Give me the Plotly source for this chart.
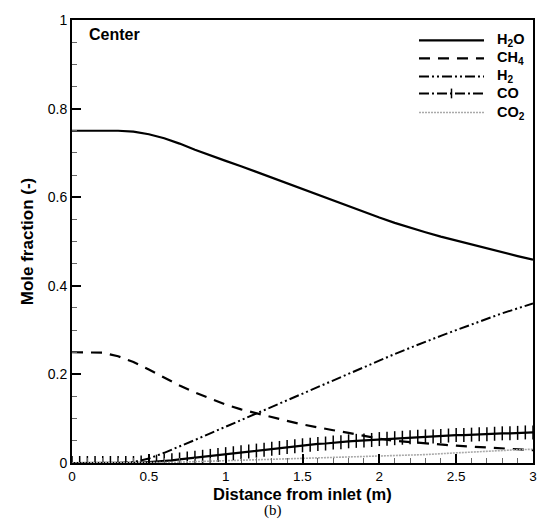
import plotly.graph_objects as go

# Distance from inlet (m): 0.1 m grid for the curves, 0.05 m grid for CO (markers)
x_grid = [round(i * 0.1, 2) for i in range(31)]
x_co = [round(i * 0.05, 2) for i in range(61)]

h2o = [0.75, 0.75, 0.75, 0.75, 0.748, 0.742, 0.733, 0.721, 0.707, 0.694,
       0.682, 0.670, 0.657, 0.644, 0.631, 0.618, 0.605, 0.592, 0.579, 0.566,
       0.554, 0.542, 0.531, 0.521, 0.511, 0.502, 0.493, 0.484, 0.475, 0.467, 0.459]
ch4 = [0.25, 0.25, 0.249, 0.241, 0.228, 0.211, 0.193, 0.175, 0.159, 0.146,
       0.132, 0.121, 0.112, 0.104, 0.095, 0.087, 0.080, 0.074, 0.068, 0.061,
       0.055, 0.050, 0.047, 0.044, 0.042, 0.039, 0.037, 0.035, 0.032, 0.030, 0.029]
h2 = [0, 0, 0, 0, 0.002, 0.010, 0.023, 0.037, 0.052, 0.067,
      0.082, 0.097, 0.111, 0.126, 0.141, 0.157, 0.172, 0.187, 0.202, 0.217,
      0.232, 0.246, 0.260, 0.274, 0.287, 0.300, 0.313, 0.326, 0.338, 0.349, 0.360]
co2 = [0, 0, 0, 0, 0, 0, 0.001, 0.002, 0.003, 0.004,
       0.005, 0.006, 0.007, 0.008, 0.009, 0.010, 0.011, 0.012, 0.013, 0.014,
       0.015, 0.017, 0.018, 0.019, 0.021, 0.023, 0.024, 0.026, 0.028, 0.030, 0.031]
co = [0, 0, 0, 0, 0, 0, 0, 0, 0, 0.001,
      0.002, 0.003, 0.005, 0.006, 0.008, 0.010, 0.012, 0.014, 0.016, 0.018,
      0.020, 0.022, 0.024, 0.026, 0.028, 0.030, 0.032, 0.034, 0.036, 0.038,
      0.040, 0.041, 0.043, 0.044, 0.046, 0.047, 0.049, 0.050, 0.051, 0.052,
      0.054, 0.055, 0.056, 0.057, 0.058, 0.059, 0.060, 0.060, 0.061, 0.062,
      0.063, 0.063, 0.064, 0.065, 0.065, 0.066, 0.067, 0.067, 0.068, 0.069, 0.069]

series_names = ["H<sub>2</sub>O", "CH<sub>4</sub>", "H<sub>2</sub>", "CO", "CO<sub>2</sub>"]

x_ticks = [0, 0.5, 1, 1.5, 2, 2.5, 3]
x_tick_labels = ["0", "0.5", "1", "1.5", "2", "2.5", "3"]
y_ticks = [0, 0.2, 0.4, 0.6, 0.8, 1]
y_tick_labels = ["0", "0.2", "0.4", "0.6", "0.8", "1"]

FONT = "Liberation Sans, Arial, sans-serif"
SERIF = "Liberation Serif, Times New Roman, serif"

styles = [
    dict(color="black", width=2.2),
    dict(color="black", width=2.2, dash="11px,8px"),
    dict(color="black", width=2.0, dash="10px,3px,2px,3px,2px,3px"),
    dict(color="black", width=2.2),
    dict(color="#aaaaaa", width=1.6, dash="2px,1px"),
]

fig = go.Figure()
fig.add_trace(go.Scatter(x=x_grid, y=h2o, mode="lines", name=series_names[0],
                         line=styles[0], showlegend=False))
fig.add_trace(go.Scatter(x=x_grid, y=ch4, mode="lines", name=series_names[1],
                         line=styles[1], showlegend=False))
fig.add_trace(go.Scatter(x=x_grid, y=h2, mode="lines", name=series_names[2],
                         line=styles[2], showlegend=False))
fig.add_trace(go.Scatter(x=x_co, y=co, mode="lines+markers", name=series_names[3],
                         line=styles[3], showlegend=False,
                         marker=dict(symbol="line-ns", size=10,
                                     line=dict(color="black", width=1.5))))
fig.add_trace(go.Scatter(x=x_grid, y=co2, mode="lines", name=series_names[4],
                         line=styles[4], showlegend=False))

# Hand-drawn legend (long line samples as in the original figure)
leg_x0, leg_x1, leg_tx = 0.7527, 0.8937, 0.9168
leg_rows = [0.9542, 0.9133, 0.8727, 0.8342, 0.7911]
legend_styles = [
    dict(color="black", width=2.2),
    dict(color="black", width=2.2, dash="11px,8px"),
    dict(color="black", width=2.0, dash="10px,3px,2px,3px,2px,3px"),
    dict(color="black", width=1.9, dash="10px,3px,2px,3px"),
    dict(color="#aaaaaa", width=1.6, dash="2px,1px"),
]
shapes = []
annotations = []
for name, yy, st in zip(series_names, leg_rows, legend_styles):
    shapes.append(dict(type="line", xref="paper", yref="paper",
                       x0=leg_x0, x1=leg_x1, y0=yy, y1=yy, line=st))
    annotations.append(dict(text="<b>" + name + "</b>", xref="paper", yref="paper",
                            x=leg_tx, y=yy, xanchor="left", yanchor="middle",
                            showarrow=False, font=dict(family=FONT, size=14.5)))
# small '+' mark on the CO legend sample
xm = (leg_x0 + leg_x1) / 2
shapes.append(dict(type="line", xref="paper", yref="paper",
                   x0=xm, x1=xm, y0=leg_rows[3] - 0.011, y1=leg_rows[3] + 0.011,
                   line=dict(color="black", width=1.5)))

annotations += [
    dict(text="<b>Center</b>", xref="paper", yref="paper",
         x=0.032, y=0.967, xanchor="left", yanchor="middle",
         showarrow=False, font=dict(family=FONT, size=16)),
    dict(text="<b>Distance from inlet (m)</b>", xref="paper", yref="paper",
         x=0.5, y=-0.0695, xanchor="center", yanchor="middle",
         showarrow=False, font=dict(family=FONT, size=16.5)),
    dict(text="<b>Mole fraction (-)</b>", xref="paper", yref="paper",
         x=-0.096, y=0.5, xanchor="center", yanchor="middle", textangle=-90,
         showarrow=False, font=dict(family=FONT, size=17)),
    dict(text="(b)", xref="paper", yref="paper",
         x=0.436, y=-0.1065, xanchor="center", yanchor="middle",
         showarrow=False, font=dict(family=SERIF, size=15)),
]

fig.update_layout(
    width=549, height=519,
    margin=dict(l=72, r=12, t=13, b=56),
    paper_bgcolor="white", plot_bgcolor="white",
    font=dict(family=FONT, color="black", size=14),
    showlegend=False,
    shapes=shapes,
    annotations=annotations,
)

fig.update_xaxes(
    range=[0, 3], tickvals=x_ticks, ticktext=x_tick_labels,
    showgrid=False, zeroline=False,
    showline=True, linecolor="black", linewidth=2, mirror=True,
    ticks="inside", ticklen=9, tickwidth=2, tickcolor="black",
    tickfont=dict(size=13.5),
    minor=dict(dtick=0.1, ticks="inside", ticklen=5, tickwidth=1, tickcolor="#666"),
)
fig.update_yaxes(
    range=[0, 1], tickvals=y_ticks, ticktext=y_tick_labels,
    showgrid=False, zeroline=False,
    showline=True, linecolor="black", linewidth=2, mirror=True,
    ticks="inside", ticklen=9, tickwidth=2, tickcolor="black",
    tickfont=dict(size=14),
    minor=dict(dtick=0.05, ticks="inside", ticklen=5, tickwidth=1, tickcolor="#666"),
)

fig.write_html("out.html")
